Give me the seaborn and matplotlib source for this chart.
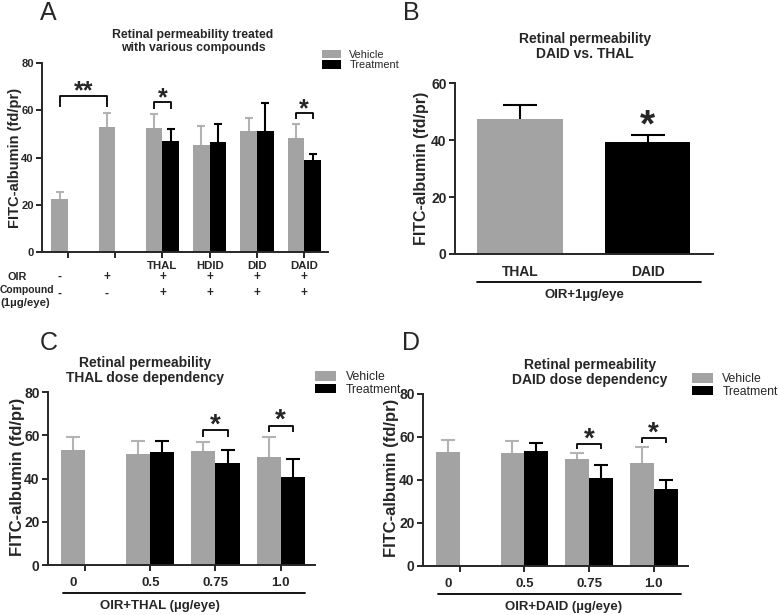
import matplotlib
matplotlib.use("Agg")
import matplotlib.pyplot as plt
import pandas as pd
import seaborn as sns

GREY = "#a3a3a3"
GREY_ERR = "#b3b3b3"
BLACK = "#000000"
HUES = ["Vehicle", "Treatment"]

# ---- panel A: various compounds ----
a_groups = ["Control", "OIR", "THAL", "HDID", "DID", "DAID"]
a_ticklabels = ["", "", "THAL", "HDID", "DID", "DAID"]
a_vehicle = [22.6, 53.0, 52.6, 45.2, 51.2, 48.2]
a_vehicle_top = [25.6, 58.8, 58.4, 53.4, 56.8, 54.0]
a_treat = [None, None, 47.2, 46.6, 51.2, 38.9]
a_treat_top = [None, None, 52.2, 54.3, 62.9, 41.6]
a_oir = ["-", "+", "+", "+", "+", "+"]
a_compound = ["-", "-", "+", "+", "+", "+"]
# (hue, group) -> (hue, group), bracket top, bracket leg end, label
a_sig = [(("Vehicle", 0), ("Vehicle", 1), 66.2, 61.2, "**"),
         (("Vehicle", 2), ("Treatment", 2), 63.3, 60.7, "*"),
         (("Vehicle", 5), ("Treatment", 5), 58.7, 56.1, "*")]

# ---- panel B: DAID vs THAL ----
b_labels = ["THAL", "DAID"]
b_values = [47.5, 39.2]
b_top = [52.3, 41.8]

# ---- panel C: THAL dose ----
c_doses = ["0", "0.5", "0.75", "1.0"]
c_vehicle = [53.2, 51.3, 52.9, 49.8]
c_vehicle_top = [59.1, 57.2, 56.7, 59.1]
c_treat = [None, 52.2, 47.3, 40.8]
c_treat_top = [None, 57.2, 53.0, 49.1]
c_sig = [(("Vehicle", 2), ("Treatment", 2), 62.2, 59.4, "*"),
         (("Vehicle", 3), ("Treatment", 3), 64.5, 61.7, "*")]

# ---- panel D: DAID dose ----
d_doses = ["0", "0.5", "0.75", "1.0"]
d_vehicle = [53.1, 52.4, 49.7, 47.9]
d_vehicle_top = [58.8, 58.3, 52.5, 55.4]
d_treat = [None, 53.4, 41.1, 35.7]
d_treat_top = [None, 57.0, 46.8, 40.2]
d_sig = [(("Vehicle", 2), ("Treatment", 2), 56.8, 54.5, "*"),
         (("Vehicle", 3), ("Treatment", 3), 59.5, 57.1, "*")]

sns.set_theme(style="ticks")
plt.rcParams["font.family"] = ["Liberation Sans", "DejaVu Sans"]
plt.rcParams["axes.linewidth"] = 1.4


def style_axes(ax, ymax, ystep, fs):
    sns.despine(ax=ax)
    ax.set_ylim(0, ymax)
    ax.set_yticks(range(0, ymax + 1, ystep))
    ax.tick_params(axis="y", length=4, width=1.4, labelsize=fs, pad=2)
    ax.tick_params(axis="x", length=4, width=1.4, labelsize=fs)
    for lab in ax.get_yticklabels():
        lab.set_fontweight("bold")
    ax.set_xlabel("")


def up_errorbar(ax, x, mean, top, color, capsize):
    # only the upper half of the error bar, with a single cap
    eb = ax.errorbar(x, mean, yerr=[[0], [top - mean]], fmt="none", ecolor=color,
                     elinewidth=1.5, capsize=capsize, capthick=1.5, zorder=1)
    for cap in eb[1]:
        if abs(cap.get_ydata()[0] - mean) < 1e-9:
            cap.set_visible(False)


def grouped_bars(ax, groups, veh, veh_top, trt, trt_top, width, capsize):
    rows = []
    for i, g in enumerate(groups):
        rows.append((g, "Vehicle", veh[i]))
        if trt[i] is not None:
            rows.append((g, "Treatment", trt[i]))
    df = pd.DataFrame(rows, columns=["group", "hue", "value"])
    sns.barplot(data=df, x="group", y="value", hue="hue", order=groups,
                hue_order=HUES, palette={"Vehicle": GREY, "Treatment": BLACK},
                width=width, errorbar=None, saturation=1, linewidth=0, ax=ax)
    tops = {"Vehicle": veh_top, "Treatment": trt_top}
    means = {"Vehicle": veh, "Treatment": trt}
    centers = {}
    bars = list(ax.containers)
    for hue, cont in zip(HUES, bars):
        for p in cont.patches:
            xc = p.get_x() + p.get_width() / 2
            idx = int(round(xc))
            centers[(hue, idx)] = xc
            up_errorbar(ax, xc, means[hue][idx], tops[hue][idx],
                        GREY_ERR if hue == "Vehicle" else BLACK, capsize)
    ax.get_legend().remove()
    return centers


def brackets(ax, centers, sig, fs):
    for a, b, top, leg, txt in sig:
        x0, x1 = centers[a], centers[b]
        ax.plot([x0, x0, x1, x1], [leg, top, top, leg], color=BLACK, lw=1.3,
                solid_capstyle="butt")
        ax.annotate(txt, ((x0 + x1) / 2, top), xytext=(0, -fs * 0.3),
                    textcoords="offset points", ha="center", va="bottom",
                    fontsize=fs, fontweight="bold")


def bar_centers_per_group(centers, n):
    out = []
    for i in range(n):
        xs = [x for (h, j), x in centers.items() if j == i]
        out.append(sum(xs) / len(xs))
    return out


def legend(ax, anchor, fs):
    handles, labels = ax.get_legend_handles_labels()
    ax.legend(handles[:2], labels[:2], loc="upper left", bbox_to_anchor=anchor,
              frameon=False, fontsize=fs, handlelength=1.7, handleheight=0.8,
              handletextpad=0.8, labelspacing=0.05, borderpad=0,
              borderaxespad=0)


fig = plt.figure(figsize=(7.79, 6.15), dpi=100)

# ---------------- A ----------------
ax = fig.add_axes([0.0539, 0.590, 0.367, 0.3076])
cen = grouped_bars(ax, a_groups, a_vehicle, a_vehicle_top, a_treat, a_treat_top, 0.7, 3)
style_axes(ax, 80, 20, 8)
ax.set_xlim(-0.55, 5.5)
ax.set_xticks(range(len(a_groups)), [""] * len(a_groups))
ax.set_ylabel("FITC-albumin (fd/pr)", fontsize=10.5, fontweight="bold")
ax.yaxis.set_label_coords(-0.07, 0.5)
legend(ax, (0.98, 1.07), 7.8)
brackets(ax, cen, a_sig, 18)
ax.text(0.528, 1.05, "Retinal permeability treated\nwith various compounds",
        transform=ax.transAxes, ha="center", va="bottom", fontsize=8.8,
        fontweight="bold", linespacing=1.1)
xlab = bar_centers_per_group(cen, len(a_groups))
tr = ax.get_xaxis_transform()
for i, x in enumerate(xlab):
    ax.text(x, -0.074, a_ticklabels[i], transform=tr, ha="center", va="center",
            fontsize=8.2, fontweight="bold")
    ax.text(x, -0.132, a_oir[i], transform=tr, ha="center", va="center",
            fontsize=8.5, fontweight="bold")
    ax.text(x, -0.218, a_compound[i], transform=tr, ha="center", va="center",
            fontsize=8.5, fontweight="bold")
ax.text(-0.122, -0.132, "OIR", transform=ax.transAxes, ha="left", va="center",
        fontsize=7.8, fontweight="bold")
ax.text(-0.147, -0.199, "Compound", transform=ax.transAxes, ha="left", va="center",
        fontsize=7.5, fontweight="bold")
ax.text(-0.147, -0.27, "(1µg/eye)", transform=ax.transAxes, ha="left", va="center",
        fontsize=8.2, fontweight="bold")

# ---------------- B ----------------
ax = fig.add_axes([0.584, 0.587, 0.331, 0.278])
sns.barplot(x=b_labels, y=b_values, hue=b_labels, palette=[GREY, BLACK],
            width=0.67, errorbar=None, saturation=1, linewidth=0, legend=False,
            ax=ax)
for cont in list(ax.containers):
    for p in cont.patches:
        xc = p.get_x() + p.get_width() / 2
        idx = int(round(xc))
        up_errorbar(ax, xc, b_values[idx], b_top[idx], BLACK, 12)
style_axes(ax, 60, 20, 10)
ax.set_xlim(-0.51, 1.51)
ax.tick_params(axis="x", length=0, pad=8)
for lab in ax.get_xticklabels():
    lab.set_fontweight("bold")
ax.set_ylabel("FITC-albumin (fd/pr)", fontsize=11.5, fontweight="bold")
ax.yaxis.set_label_coords(-0.10, 0.5)
ax.annotate("*", (1, b_top[1]), xytext=(0, -7), textcoords="offset points",
            ha="center", va="bottom", fontsize=28, fontweight="bold")
ax.text(0.504, 1.13, "Retinal permeability\nDAID vs. THAL", transform=ax.transAxes,
        ha="center", va="bottom", fontsize=10, fontweight="bold", linespacing=1.1)
ax.plot([0.085, 0.953], [-0.164, -0.164], transform=ax.transAxes, color=BLACK,
        lw=1.3, clip_on=False)
ax.text(0.504, -0.24, "OIR+1µg/eye", transform=ax.transAxes, ha="center",
        va="center", fontsize=9.5, fontweight="bold")


def dose_panel(rect, doses, veh, veh_top, trt, trt_top, sig, title, xlabel,
               title_x, leg_anchor, line_x, xlab_x, ylab_x):
    ax = fig.add_axes(rect)
    cen = grouped_bars(ax, doses, veh, veh_top, trt, trt_top, 0.74, 5)
    style_axes(ax, 80, 20, 10)
    ax.set_xlim(-0.57, 3.53)
    ax.set_xticks(range(len(doses)), [""] * len(doses))
    ax.set_ylabel("FITC-albumin (fd/pr)", fontsize=12, fontweight="bold")
    ax.yaxis.set_label_coords(ylab_x, 0.51)
    legend(ax, leg_anchor, 8.8)
    brackets(ax, cen, sig, 20)
    ax.text(title_x, 1.04, title, transform=ax.transAxes, ha="center",
            va="bottom", fontsize=10, fontweight="bold", linespacing=1.1)
    tr = ax.get_xaxis_transform()
    for i, x in enumerate(bar_centers_per_group(cen, len(doses))):
        ax.text(x, -0.102, doses[i], transform=tr, ha="center", va="center",
                fontsize=9.5, fontweight="bold")
    ax.plot(line_x, [-0.16, -0.16], transform=ax.transAxes, color=BLACK,
            lw=1.3, clip_on=False)
    ax.text(xlab_x, -0.238, xlabel, transform=ax.transAxes, ha="center",
            va="center", fontsize=9.5, fontweight="bold")
    return ax


dose_panel([0.0616, 0.0813, 0.343, 0.2813], c_doses, c_vehicle, c_vehicle_top,
           c_treat, c_treat_top, c_sig,
           "Retinal permeability\nTHAL dose dependency", "OIR+THAL (µg/eye)",
           0.363, (1.0, 1.12), [0.056, 0.963], 0.42, -0.085)
dose_panel([0.543, 0.0797, 0.340, 0.2797], d_doses, d_vehicle, d_vehicle_top,
           d_treat, d_treat_top, d_sig,
           "Retinal permeability\nDAID dose dependency", "OIR+DAID (µg/eye)",
           0.63, (1.015, 1.12), [0.057, 0.974], 0.53, -0.092)

for letter, x, y in [("A", 0.051, 0.9675), ("B", 0.517, 0.9675),
                     ("C", 0.051, 0.431), ("D", 0.516, 0.431)]:
    fig.text(x, y, letter, fontsize=18, va="baseline", ha="left")

fig.savefig("out.png", dpi=100)
